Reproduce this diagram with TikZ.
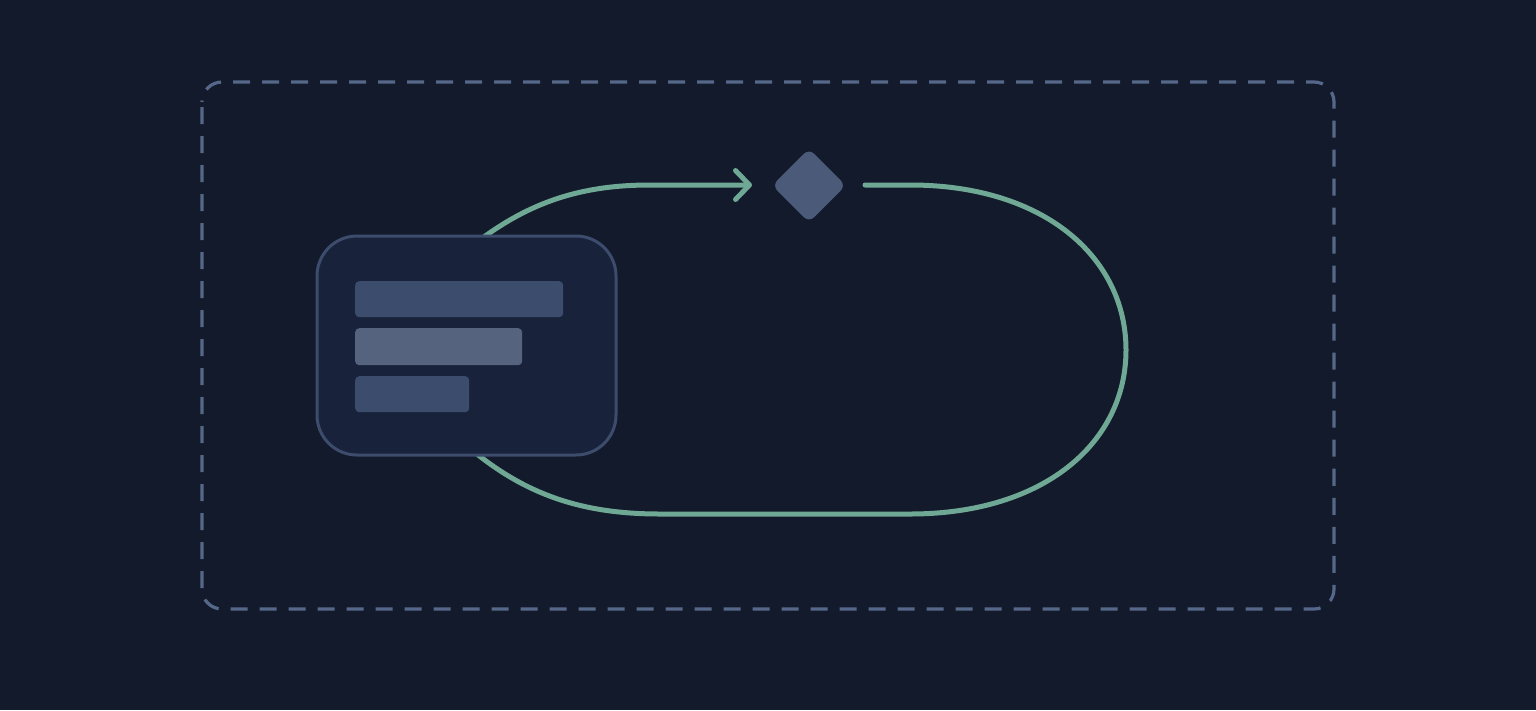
\documentclass[tikz,border=0pt]{standalone}
\usetikzlibrary{arrows.meta}
\definecolor{bg}{HTML}{131A2B}
\definecolor{frame}{HTML}{56688A}
\definecolor{flow}{HTML}{6FA894}
\definecolor{cardfill}{HTML}{18223A}
\definecolor{cardline}{HTML}{3D4C6C}
\definecolor{barA}{HTML}{3B4C6D}
\definecolor{barB}{HTML}{55637F}
\definecolor{gem}{HTML}{4B5A79}
\tikzset{
  flowline/.style={draw=flow, line width=5pt, line cap=round},
  cardbox/.style={draw=cardline, fill=cardfill, line width=3pt, rounded corners=40pt,
    minimum width=299pt, minimum height=219pt, inner sep=0pt},
  barbox/.style={rounded corners=4pt, inner sep=0pt, anchor=north west, minimum height=36pt},
}
\begin{document}
\begin{tikzpicture}[x=1pt,y=-1pt]
\fill[bg] (0,0) rectangle (1536,710);
\useasboundingbox (0,0) rectangle (1536,710);
% dashed frame
\draw[frame, line width=3.2pt, rounded corners=20pt, dash pattern=on 17pt off 12pt, dash phase=-5pt]
  (202,82) rectangle (1334,609);
% nodes
\node[fill=gem, rounded corners=7pt, minimum size=52pt, inner sep=0pt, rotate=45] (gate) at (809,185.5) {};
\coordinate (lstart) at (455,260);
\coordinate (lend) at (455,435);
\coordinate (tip) at (752,185);
\coordinate (rstart) at (865,185);
% flow loop
\draw[flowline, -{Straight Barb[length=14pt,width=29pt,round]}]
  (lstart) .. controls (515,208) and (570,185) .. (650,185) -- (tip);
\draw[flowline]
  (rstart) -- (910,185) .. controls (1045,185) and (1126,258) .. (1126,350)
  .. controls (1126,442) and (1045,514) .. (910,514) -- (660,514)
  .. controls (580,514) and (518,494) .. (lend);
% card
\node[cardbox] (card) at (466.5,345.5) {};
\node[barbox, fill=barA, minimum width=208pt] (bar1) at (355,281) {};
\node[barbox, fill=barB, minimum width=167pt, minimum height=37pt] (bar2) at (355,328) {};
\node[barbox, fill=barA, minimum width=114pt] (bar3) at (355,376) {};
\end{tikzpicture}
\end{document}
